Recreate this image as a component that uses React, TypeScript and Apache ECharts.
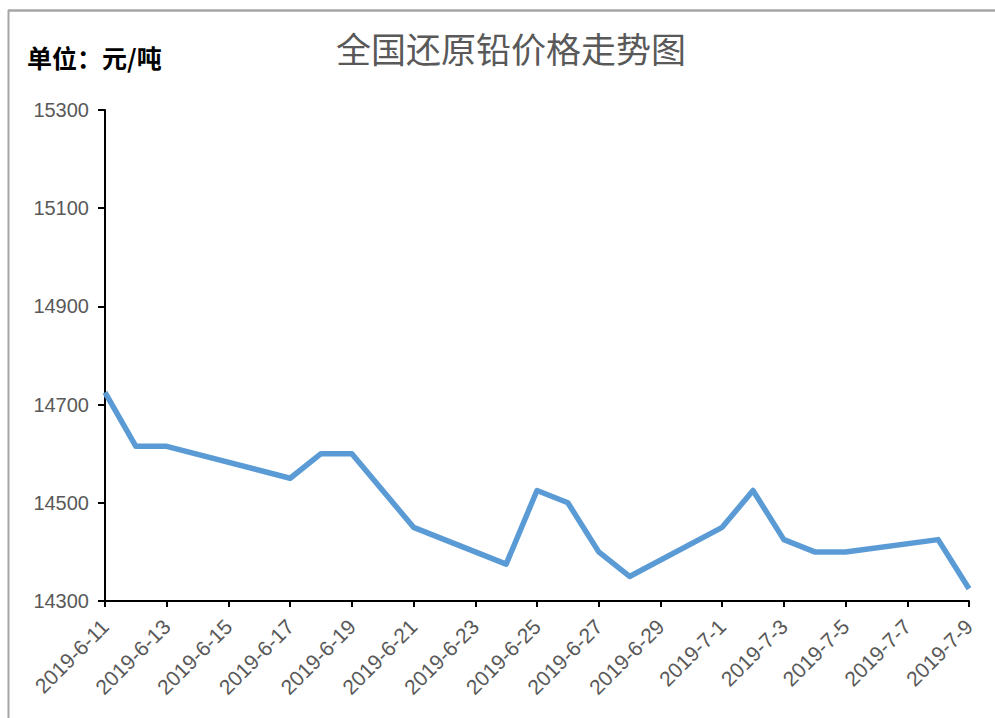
import React, { useEffect, useRef } from "react";
import * as echarts from "echarts";

const titleText = "全国还原铅价格走势图";
const unitText = "单位：元/吨";
const startDate = "2019-6-11";
const endDate = "2019-7-9";
const dates = [
  "2019-6-11", "2019-6-12", "2019-6-13", "2019-6-17", "2019-6-18", "2019-6-19",
  "2019-6-21", "2019-6-24", "2019-6-25", "2019-6-26", "2019-6-27", "2019-6-28",
  "2019-7-1", "2019-7-2", "2019-7-3", "2019-7-4", "2019-7-5", "2019-7-8", "2019-7-9",
];
const prices = [
  14725, 14615, 14615, 14550, 14600, 14600,
  14450, 14375, 14525, 14500, 14400, 14350,
  14450, 14525, 14425, 14400, 14400, 14425, 14325,
];
const yMin = 14300;
const yMax = 15300;
const yStep = 200;
const xStepDays = 2;

const DAY = 86400000;
function toMs(s: string): number {
  const [y, m, d] = s.split("-").map(Number);
  return Date.UTC(y, m - 1, d);
}
const t0 = toMs(startDate);
function dayIndex(s: string): number {
  return Math.round((toMs(s) - t0) / DAY);
}
function fmtDay(v: number): string {
  const d = new Date(t0 + Math.round(v) * DAY);
  return `${d.getUTCFullYear()}-${d.getUTCMonth() + 1}-${d.getUTCDate()}`;
}

export default function App() {
  const ref = useRef<HTMLDivElement>(null);
  useEffect(() => {
    if (!ref.current) return;
    const chart = echarts.init(ref.current, undefined, { renderer: "svg" });
    const seriesData = dates.map((d, i) => [dayIndex(d), prices[i]]);
    chart.setOption({
      animation: false,
      backgroundColor: "#ffffff",
      grid: { left: 105, right: 26, top: 110, bottom: 117, containLabel: false },
      graphic: [
        {
          type: "line",
          shape: { x1: 8.5, y1: 10, x2: 8.5, y2: 720 },
          style: { stroke: "#a6a6a6", lineWidth: 2 },
        },
        {
          type: "line",
          shape: { x1: 8, y1: 10.5, x2: 996, y2: 10.5 },
          style: { stroke: "#a6a6a6", lineWidth: 2.5 },
        },
        {
          type: "text",
          x: 511,
          y: 47,
          style: {
            text: titleText,
            fill: "#595959",
            font: '35px "Noto Sans CJK SC"',
            textAlign: "center",
            textVerticalAlign: "middle",
          },
        },
        {
          type: "text",
          x: 27,
          y: 57,
          style: {
            text: unitText,
            fill: "#000000",
            font: 'bold 25px "Noto Sans CJK SC"',
            textAlign: "left",
            textVerticalAlign: "middle",
          },
        },
      ],
      xAxis: {
        type: "value",
        min: 0,
        max: dayIndex(endDate),
        interval: xStepDays,
        splitLine: { show: false },
        axisLine: { show: true, onZero: false, lineStyle: { color: "#000000", width: 2 } },
        axisTick: { show: true, length: 6, lineStyle: { color: "#000000", width: 2 } },
        axisLabel: {
          rotate: 45,
          margin: 22,
          color: "#595959",
          fontSize: 21,
          fontFamily: "Liberation Sans",
          formatter: (v: number) => fmtDay(v),
          showMinLabel: true,
          showMaxLabel: true,
        },
      },
      yAxis: {
        type: "value",
        min: yMin,
        max: yMax,
        interval: yStep,
        splitLine: { show: false },
        axisLine: { show: true, lineStyle: { color: "#000000", width: 2 } },
        axisTick: { show: true, length: 7, lineStyle: { color: "#000000", width: 2 } },
        axisLabel: {
          margin: 16,
          color: "#595959",
          fontSize: 20,
          fontFamily: "Liberation Sans",
          formatter: (v: number) => String(v),
        },
      },
      series: [
        {
          type: "line",
          data: seriesData,
          showSymbol: false,
          symbol: "none",
          lineStyle: { color: "#5b9bd5", width: 5.5, join: "round" },
          itemStyle: { color: "#5b9bd5" },
        },
      ],
    });
    return () => chart.dispose();
  }, []);
  return (
    <div
      ref={ref}
      style={{ position: "fixed", left: 0, top: 0, width: 995, height: 718, background: "#fff" }}
    />
  );
}
